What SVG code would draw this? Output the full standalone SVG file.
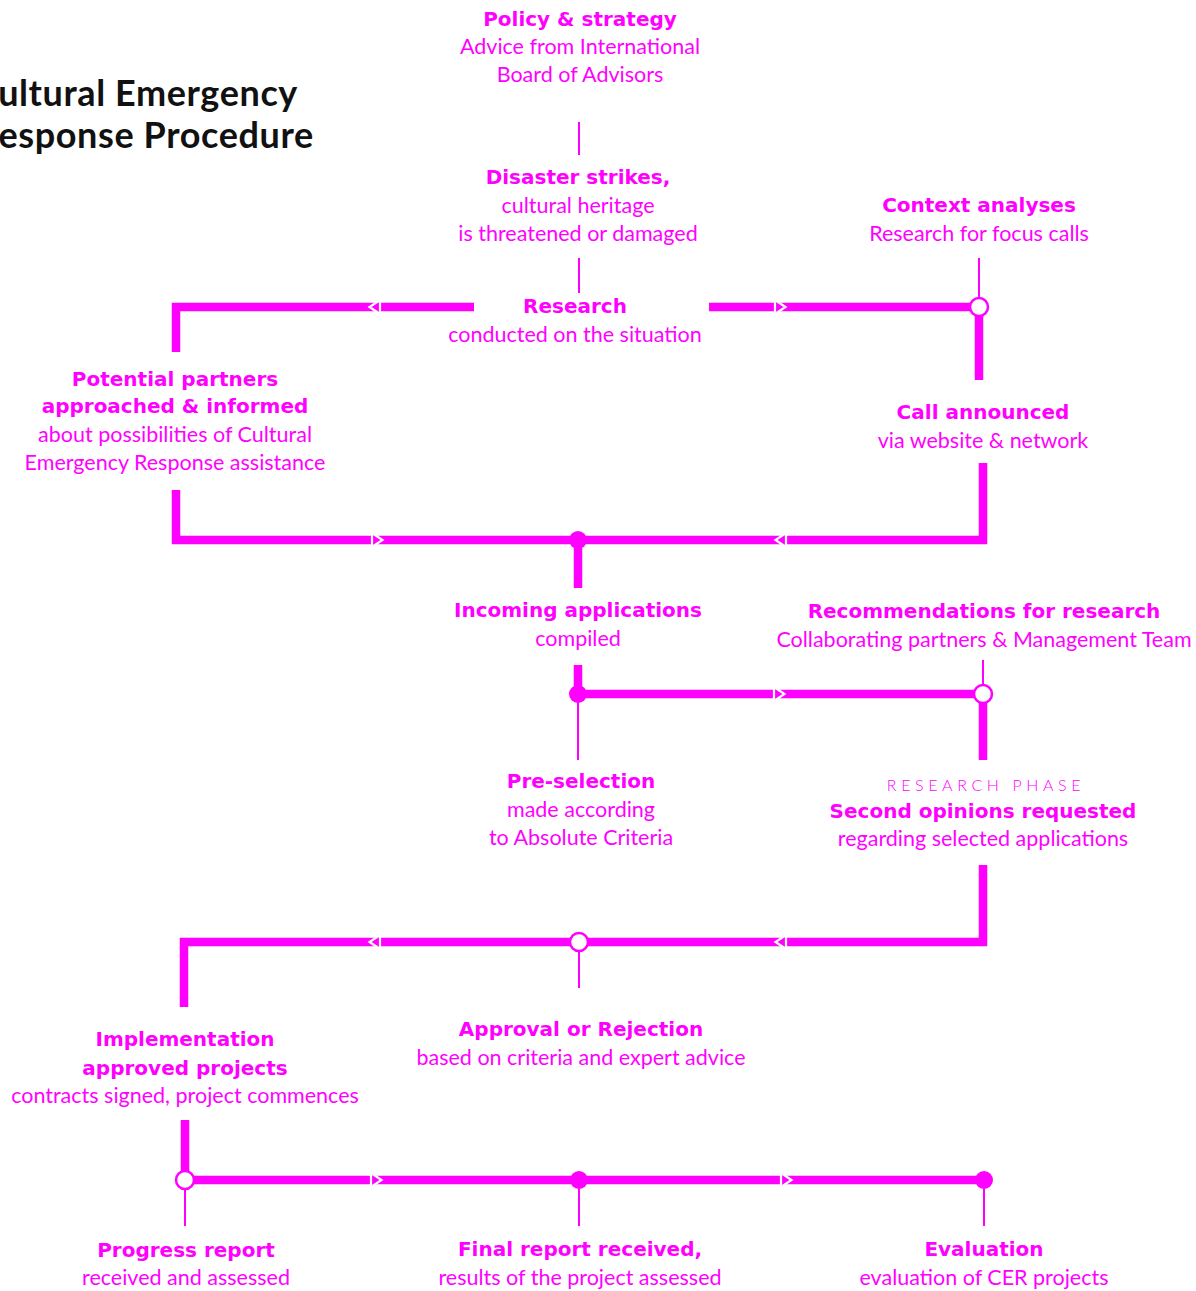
<svg xmlns="http://www.w3.org/2000/svg" xmlns:xlink="http://www.w3.org/1999/xlink" width="1196" height="1291" viewBox="0 0 1196 1291">
<style>
  .t { font-family: Lato, "Open Sans", "Liberation Sans", sans-serif; fill: #ff00ff; text-anchor: middle; }
  .b { font-family: "DejaVu Sans", Lato, sans-serif; font-size: 20px; font-weight: 700; }
  .r { font-size: 21.5px; font-weight: 400; }
  .ph { font-size: 16px; font-weight: 300; letter-spacing: 4.6px; }
  .title { font-family: Lato, "Open Sans", "Liberation Sans", sans-serif; font-size: 36px; font-weight: 700; fill: #111; letter-spacing: 0.6px; }
  .thick { stroke: #ff00ff; stroke-width: 8.5; fill: none; stroke-linecap: butt; stroke-linejoin: miter; }
  .thin { stroke: #ff00ff; stroke-width: 2; fill: none; }
  .open { fill: #fff; stroke: #ff00ff; stroke-width: 2.5; }
  .dot { fill: #ff00ff; }
</style>
<defs>
  <polygon id="ar" points="-5,-7 5.5,0 -5,7" fill="#ff00ff" stroke="#fff" stroke-width="2.2"/>
</defs>
<rect width="1196" height="1291" fill="#fff"/>

<g id="title">
  <text class="title" x="-26" y="106">Cultural Emergency</text>
  <text class="title" x="-24" y="148">Response Procedure</text>
</g>

<g id="connectors">
  <!-- row 1 -->
  <line class="thin" x1="579" y1="122" x2="579" y2="155"/>
  <line class="thin" x1="579" y1="258" x2="579" y2="293"/>
  <polyline class="thick" points="176,352 176,307 474,307"/>
  <line class="thick" x1="709" y1="307" x2="979" y2="307"/>
  <line class="thin" x1="979" y1="258" x2="979" y2="307"/>
  <line class="thick" x1="979" y1="307" x2="979" y2="380"/>
  <use xlink:href="#ar" transform="translate(375,307) rotate(180)"/>
  <use xlink:href="#ar" transform="translate(780,307)"/>
  <circle class="open" cx="979" cy="307" r="9"/>

  <!-- row 2 -->
  <polyline class="thick" points="176,490 176,540 983,540 983,463"/>
  <line class="thick" x1="578" y1="540" x2="578" y2="588"/>
  <use xlink:href="#ar" transform="translate(377,540)"/>
  <use xlink:href="#ar" transform="translate(781,540) rotate(180)"/>
  <circle class="dot" cx="578" cy="540" r="9"/>

  <!-- row 3 -->
  <polyline class="thick" points="578,665 578,694 983,694"/>
  <line class="thin" x1="578" y1="694" x2="578" y2="760"/>
  <line class="thin" x1="983" y1="660" x2="983" y2="694"/>
  <line class="thick" x1="983" y1="694" x2="983" y2="760"/>
  <use xlink:href="#ar" transform="translate(779,694)"/>
  <circle class="dot" cx="578" cy="694" r="9"/>
  <circle class="open" cx="983" cy="694" r="9"/>

  <!-- row 4 -->
  <polyline class="thick" points="983,865 983,942 184,942 184,1007"/>
  <line class="thin" x1="579" y1="942" x2="579" y2="988"/>
  <use xlink:href="#ar" transform="translate(781,942) rotate(180)"/>
  <use xlink:href="#ar" transform="translate(375,942) rotate(180)"/>
  <circle class="open" cx="579" cy="942" r="9"/>

  <!-- row 5 -->
  <polyline class="thick" points="185,1120 185,1180 984,1180"/>
  <line class="thin" x1="185" y1="1180" x2="185" y2="1226"/>
  <line class="thin" x1="579" y1="1180" x2="579" y2="1226"/>
  <line class="thin" x1="984" y1="1180" x2="984" y2="1226"/>
  <use xlink:href="#ar" transform="translate(376,1180)"/>
  <use xlink:href="#ar" transform="translate(786,1180)"/>
  <circle class="open" cx="185" cy="1180" r="9"/>
  <circle class="dot" cx="579" cy="1180" r="9"/>
  <circle class="dot" cx="984" cy="1180" r="9"/>
</g>

<g id="n-policy">
  <text class="t b" x="580" y="26">Policy &amp; strategy</text>
  <text class="t r" x="580" y="54">Advice from International</text>
  <text class="t r" x="580" y="82">Board of Advisors</text>
</g>
<g id="n-disaster">
  <text class="t b" x="578" y="184">Disaster strikes,</text>
  <text class="t r" x="578" y="213">cultural heritage</text>
  <text class="t r" x="578" y="241">is threatened or damaged</text>
</g>
<g id="n-research">
  <text class="t b" x="575" y="313">Research</text>
  <text class="t r" x="575" y="342">conducted on the situation</text>
</g>
<g id="n-context">
  <text class="t b" x="979" y="212">Context analyses</text>
  <text class="t r" x="979" y="241">Research for focus calls</text>
</g>
<g id="n-partners">
  <text class="t b" x="175" y="386">Potential partners</text>
  <text class="t b" x="175" y="413">approached &amp; informed</text>
  <text class="t r" x="175" y="442">about possibilities of Cultural</text>
  <text class="t r" x="175" y="470">Emergency Response assistance</text>
</g>
<g id="n-call">
  <text class="t b" x="983" y="419">Call announced</text>
  <text class="t r" x="983" y="448">via website &amp; network</text>
</g>
<g id="n-incoming">
  <text class="t b" x="578" y="617">Incoming applications</text>
  <text class="t r" x="578" y="646">compiled</text>
</g>
<g id="n-recommend">
  <text class="t b" x="984" y="618">Recommendations for research</text>
  <text class="t r" x="984" y="647">Collaborating partners &amp; Management Team</text>
</g>
<g id="n-preselection">
  <text class="t b" x="581" y="788">Pre-selection</text>
  <text class="t r" x="581" y="817">made according</text>
  <text class="t r" x="581" y="845">to Absolute Criteria</text>
</g>
<g id="n-second">
  <text class="t ph" x="986" y="791">RESEARCH PHASE</text>
  <text class="t b" x="983" y="818">Second opinions requested</text>
  <text class="t r" x="983" y="846">regarding selected applications</text>
</g>
<g id="n-approval">
  <text class="t b" x="581" y="1036">Approval or Rejection</text>
  <text class="t r" x="581" y="1065">based on criteria and expert advice</text>
</g>
<g id="n-implementation">
  <text class="t b" x="185" y="1046">Implementation</text>
  <text class="t b" x="185" y="1075">approved projects</text>
  <text class="t r" x="185" y="1103">contracts signed, project commences</text>
</g>
<g id="n-progress">
  <text class="t b" x="186" y="1257">Progress report</text>
  <text class="t r" x="186" y="1285">received and assessed</text>
</g>
<g id="n-final">
  <text class="t b" x="580" y="1256">Final report received,</text>
  <text class="t r" x="580" y="1285">results of the project assessed</text>
</g>
<g id="n-evaluation">
  <text class="t b" x="984" y="1256">Evaluation</text>
  <text class="t r" x="984" y="1285">evaluation of CER projects</text>
</g>
</svg>
